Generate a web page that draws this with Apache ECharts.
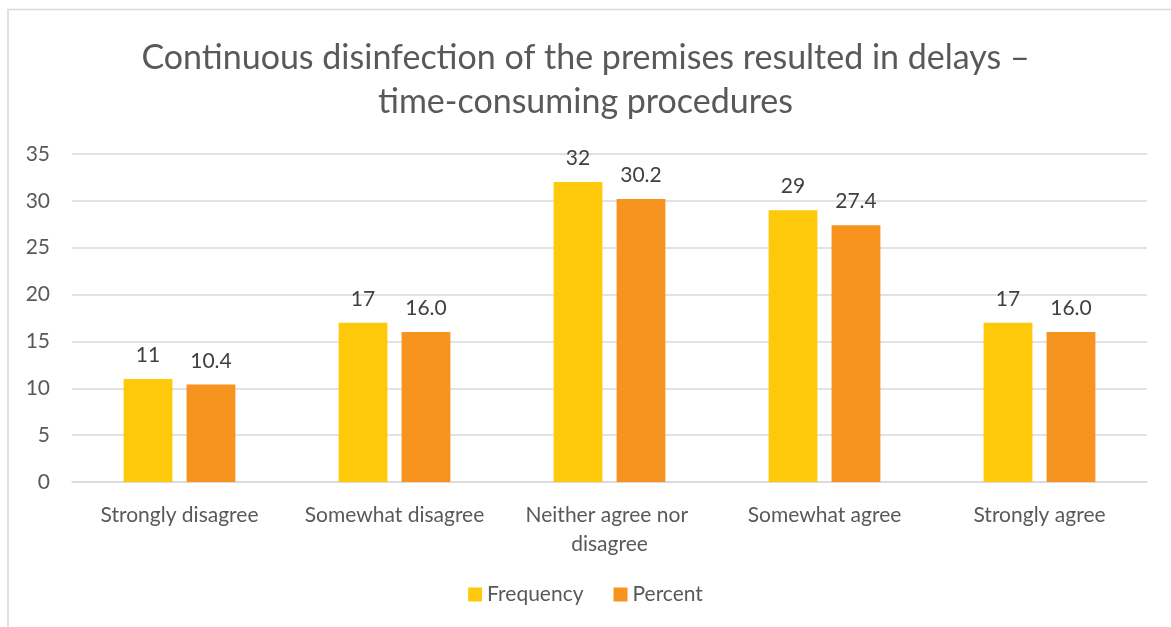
<!DOCTYPE html>
<html>
<head>
<meta charset="utf-8">
<script src="https://cdn.jsdelivr.net/npm/echarts@6/dist/echarts.min.js"></script>
<style>
  html, body { margin: 0; padding: 0; background: #fff; }
  #main { width: 1171px; height: 627px; }
</style>
</head>
<body>
<div id="main"></div>
<script>
// survey answers, frequency and percent per answer
var categories = ['Strongly disagree', 'Somewhat disagree', 'Neither agree nor disagree', 'Somewhat agree', 'Strongly agree'];
var frequency = [11, 17, 32, 29, 17];
var percent = [10.4, 16.0, 30.2, 27.4, 16.0];
var yTicks = [0, 5, 10, 15, 20, 25, 30, 35];

var myChart = echarts.init(document.getElementById('main'));
var font = 'Lato, "Open Sans", sans-serif';
var grey = '#595959';

var option = {
    backgroundColor: '#fff',
    textStyle: { fontFamily: font },
    graphic: [{
        type: 'rect',
        shape: { x: 8, y: 9.5, width: 1200, height: 640 },
        style: { fill: 'none', stroke: '#d9d9d9', lineWidth: 1.5 },
        silent: true
    }],
    title: {
        text: 'Continuous disinfection of the premises resulted in delays –\ntime-consuming procedures',
        left: 'center',
        top: 31,
        textStyle: {
            fontFamily: font,
            fontSize: 34,
            fontWeight: 'normal',
            color: grey,
            lineHeight: 44
        }
    },
    legend: {
        bottom: 17,
        left: 'center',
        itemWidth: 14,
        itemHeight: 14,
        itemGap: 30,
        icon: 'rect',
        textStyle: { fontFamily: font, fontSize: 21, color: grey },
        data: ['Frequency', 'Percent']
    },
    grid: {
        left: 72,
        right: 24,
        top: 154,
        bottom: 145
    },
    xAxis: {
        type: 'category',
        data: categories,
        axisTick: { show: false },
        axisLine: { lineStyle: { color: '#d9d9d9', width: 1.5 } },
        axisLabel: {
            fontFamily: font,
            fontSize: 21,
            color: grey,
            margin: 19,
            width: 205,
            overflow: 'break',
            lineHeight: 29,
            interval: 0
        }
    },
    yAxis: {
        type: 'value',
        min: yTicks[0],
        max: yTicks[yTicks.length - 1],
        interval: 5,
        axisLine: { show: false },
        axisTick: { show: false },
        splitLine: { lineStyle: { color: '#d9d9d9', width: 1.5 } },
        axisLabel: {
            fontFamily: font,
            fontSize: 21,
            color: grey,
            margin: 22
        }
    },
    series: [
        {
            name: 'Frequency',
            type: 'bar',
            data: frequency,
            barGap: '29%',
            barCategoryGap: '48%',
            itemStyle: { color: '#FFC90B' },
            label: {
                show: true,
                position: 'top',
                distance: 13,
                fontFamily: font,
                fontSize: 21,
                color: '#404040'
            }
        },
        {
            name: 'Percent',
            type: 'bar',
            data: percent,
            itemStyle: { color: '#F7931F' },
            label: {
                show: true,
                position: 'top',
                distance: 13,
                fontFamily: font,
                fontSize: 21,
                color: '#404040',
                formatter: function (p) { return p.value.toFixed(1); }
            }
        }
    ]
};

myChart.setOption(option);
</script>
</body>
</html>
